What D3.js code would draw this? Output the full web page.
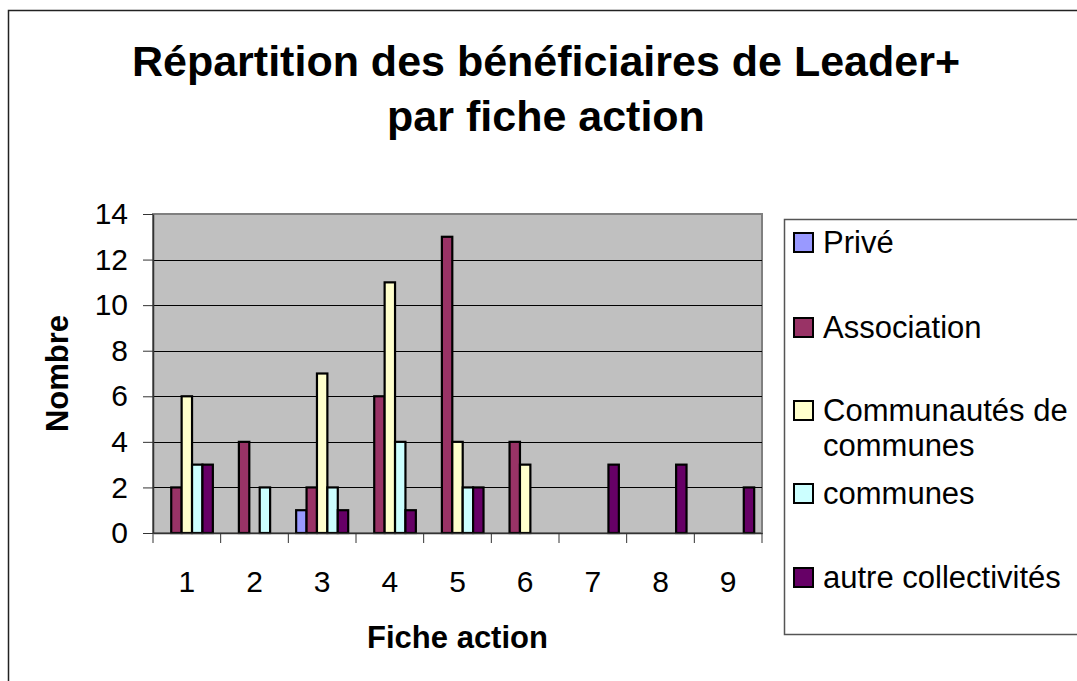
<!DOCTYPE html>
<html>
<head>
<meta charset="utf-8">
<script src="https://cdn.jsdelivr.net/npm/d3@7"></script>
<style>
  body { margin: 0; background: #fff; }
  svg text { font-family: "Liberation Sans", Arial, sans-serif; fill: #000; }
</style>
</head>
<body>
<div class="chart"></div>
<script>
// fiche action numbers
var categories = ["1", "2", "3", "4", "5", "6", "7", "8", "9"];
var seriesNames = ["Privé", "Association", "Communautés de communes", "communes", "autre collectivités"];
var seriesColors = ["#9999FF", "#993366", "#FFFFCC", "#CCFFFF", "#660066"];
// values per series, one per fiche action
var prive = [0, 0, 1, 0, 0, 0, 0, 0, 0];
var association = [2, 4, 2, 6, 13, 4, 0, 0, 0];
var communautes = [6, 0, 7, 11, 4, 3, 0, 0, 0];
var communes = [3, 2, 2, 4, 2, 0, 0, 0, 0];
var autres = [3, 0, 1, 1, 2, 0, 3, 3, 2];
var yTicks = [0, 2, 4, 6, 8, 10, 12, 14];

var seriesValues = [prive, association, communautes, communes, autres];

var W = 1077, H = 681;
var plot = { left: 153, top: 214, right: 762, bottom: 533 };

var svg = d3.select(".chart").append("svg")
    .attr("width", W)
    .attr("height", H);

// outer chart border (runs past the right/bottom edge)
svg.append("rect")
    .attr("x", 8.5).attr("y", 10.5)
    .attr("width", 1200).attr("height", 800)
    .attr("fill", "#fff")
    .attr("stroke", "#222")
    .attr("stroke-width", 1.5);

// title
var title = svg.append("text")
    .attr("text-anchor", "middle")
    .style("font-size", "43px")
    .style("font-weight", "bold");
title.append("tspan").attr("x", 546).attr("y", 76).text("Répartition des bénéficiaires de Leader+");
title.append("tspan").attr("x", 546).attr("y", 131).text("par fiche action");

var x = d3.scaleBand()
    .domain(categories)
    .range([plot.left, plot.right])
    .padding(0);

var barW = x.bandwidth() / 6.5;
var xs = d3.scaleBand()
    .domain(d3.range(seriesNames.length))
    .range([0.75 * barW, x.bandwidth() - 0.75 * barW])
    .padding(0);

var y = d3.scaleLinear()
    .domain([0, 14])
    .range([plot.bottom, plot.top]);

// plot area
svg.append("rect")
    .attr("x", plot.left).attr("y", plot.top)
    .attr("width", plot.right - plot.left)
    .attr("height", plot.bottom - plot.top)
    .attr("fill", "#C0C0C0")
    .attr("stroke", "#808080")
    .attr("stroke-width", 2);

// gridlines
svg.append("g").selectAll("line")
    .data(yTicks.filter(function(d) { return d > 0 && d < 14; }))
    .enter().append("line")
      .attr("x1", plot.left).attr("x2", plot.right)
      .attr("y1", function(d) { return Math.round(y(d)) + 0.5; })
      .attr("y2", function(d) { return Math.round(y(d)) + 0.5; })
      .attr("stroke", "#000")
      .attr("stroke-width", 1.2);

// bars
var rows = [];
categories.forEach(function(c, i) {
  seriesValues.forEach(function(vals, s) {
    if (vals[i] > 0) rows.push({ cat: c, s: s, v: vals[i] });
  });
});

svg.append("g").selectAll("rect")
    .data(rows)
    .enter().append("rect")
      .attr("x", function(d) { return x(d.cat) + xs(d.s); })
      .attr("y", function(d) { return y(d.v); })
      .attr("width", xs.bandwidth())
      .attr("height", function(d) { return y(0) - y(d.v); })
      .attr("fill", function(d) { return seriesColors[d.s]; })
      .attr("stroke", "#000")
      .attr("stroke-width", 2.2);

// y axis
var yAxis = svg.append("g")
    .attr("transform", "translate(" + plot.left + ",0)")
    .call(d3.axisLeft(y).tickValues(yTicks).tickSize(10).tickPadding(15).tickSizeOuter(0));
yAxis.select(".domain").attr("stroke", "#333").attr("stroke-width", 1.5);
yAxis.selectAll(".tick line").attr("stroke", "#333");
yAxis.selectAll("text")
    .style("font-size", "30px")
    .attr("font-family", null);

// x axis: labels centred, ticks between categories
var xAxis = svg.append("g")
    .attr("transform", "translate(0," + plot.bottom + ")")
    .call(d3.axisBottom(x).tickSize(0).tickPadding(38).tickSizeOuter(0));
xAxis.select(".domain").attr("stroke", "#333").attr("stroke-width", 1.5);
xAxis.selectAll("text")
    .style("font-size", "30px")
    .attr("font-family", null);

var bounds = categories.map(function(c) { return x(c); }).concat([plot.right]);
xAxis.selectAll(".sep")
    .data(bounds)
    .enter().append("line")
      .attr("class", "sep")
      .attr("x1", function(d) { return d; }).attr("x2", function(d) { return d; })
      .attr("y1", 0).attr("y2", 10)
      .attr("stroke", "#333");

// axis titles
svg.append("text")
    .attr("x", (plot.left + plot.right) / 2)
    .attr("y", 648)
    .attr("text-anchor", "middle")
    .style("font-size", "31px")
    .style("font-weight", "bold")
    .text("Fiche action");

svg.append("text")
    .attr("transform", "translate(68," + ((plot.top + plot.bottom) / 2) + ") rotate(-90)")
    .attr("text-anchor", "middle")
    .style("font-size", "31px")
    .style("font-weight", "bold")
    .text("Nombre");

// legend
svg.append("rect")
    .attr("x", 784.5).attr("y", 219.5)
    .attr("width", 400).attr("height", 415)
    .attr("fill", "#fff")
    .attr("stroke", "#555")
    .attr("stroke-width", 1.5);

var legendY = [242, 327, 410, 493, 577];
var legendLines = [["Privé"], ["Association"], ["Communautés de", "communes"], ["communes"], ["autre collectivités"]];

var items = svg.append("g").selectAll("g")
    .data(seriesNames)
    .enter().append("g")
      .attr("transform", function(d, i) { return "translate(793," + legendY[i] + ")"; });

items.append("rect")
    .attr("x", 1).attr("y", -9)
    .attr("width", 19).attr("height", 19)
    .attr("fill", function(d, i) { return seriesColors[i]; })
    .attr("stroke", "#000")
    .attr("stroke-width", 2);

items.append("text")
    .style("font-size", "31px")
    .each(function(d, i) {
      var t = d3.select(this);
      legendLines[i].forEach(function(line, k) {
        t.append("tspan").attr("x", 30).attr("y", 11 + k * 35).text(line);
      });
    });
</script>
</body>
</html>
